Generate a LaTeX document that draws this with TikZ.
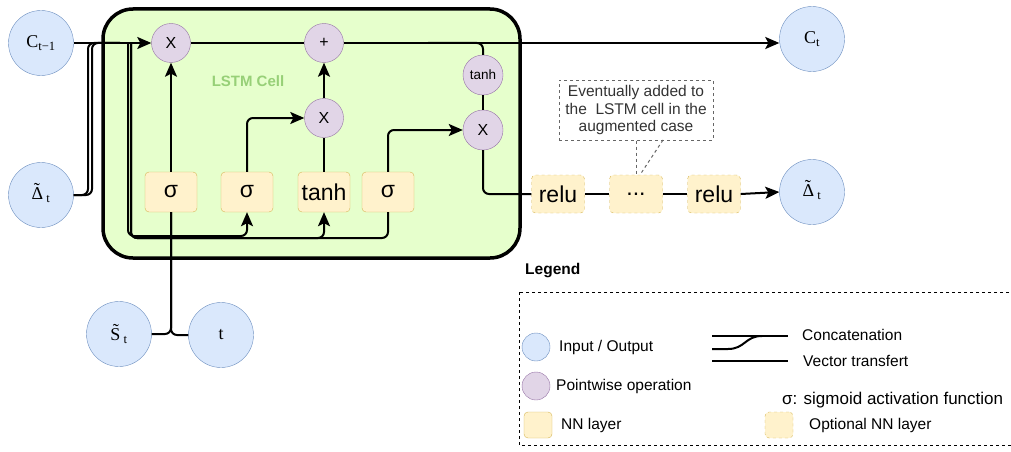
\documentclass[tikz,border=0pt]{standalone}
\usepackage{fontspec}
\setmainfont{Liberation Sans}
\newfontfamily\lblfont{Liberation Serif}
\usetikzlibrary{arrows.meta}

\definecolor{iofill}{HTML}{DAE8FC}
\definecolor{ioline}{HTML}{6C8EBF}
\definecolor{pwfill}{HTML}{E1D5E7}
\definecolor{pwline}{HTML}{9673A6}
\definecolor{nnfill}{HTML}{FFF2CC}
\definecolor{nnline}{HTML}{D6B656}
\definecolor{cellfill}{HTML}{E6FFCC}
\definecolor{cellname}{HTML}{97D077}
\definecolor{notegray}{HTML}{666666}
\definecolor{notetext}{HTML}{333333}

\newcommand{\tildedelta}{\ooalign{Δ\cr\hidewidth\raisebox{0.22em}{\symbol{"02DC}}\hidewidth\kern0.08em\cr}}

\begin{document}
\begin{tikzpicture}[x=1pt,y=-1pt,
    wire/.style={line width=2pt,rounded corners=6pt},
    arr/.style={-{Stealth[length=14pt,width=12pt,inset=3pt]}},
    io/.style={circle,draw=ioline,fill=iofill,minimum size=65pt,inner sep=0pt,
      font=\lblfont\fontsize{18}{20}\selectfont},
    pw/.style={circle,draw=pwline,fill=pwfill,minimum size=39pt,inner sep=0pt,
      font=\fontsize{16}{18}\selectfont},
    nn/.style={rectangle,rounded corners=4pt,draw=nnline,fill=nnfill,minimum width=52pt,
      minimum height=40pt,inner sep=0pt,font=\fontsize{23}{25}\selectfont},
    opt/.style={nn,dashed,minimum width=53pt,minimum height=38pt},
    lgd/.style={anchor=west,inner sep=0pt,font=\fontsize{15.5}{18}\selectfont},
  ]
  \useasboundingbox (0,0) rectangle (1011,452);

  \draw[line width=3.5pt,fill=cellfill,rounded corners=30pt] (103,9) rectangle (520,258);
  \node[text=cellname,font=\bfseries\fontsize{15}{17}\selectfont] (celltitle) at (248,81) {LSTM Cell};

  \node[io] (cprev) at (41,43) {C\textsubscript{t−1}};
  \node[io] (dprev) at (41,195) {\tildedelta\,\textsubscript{t}};
  \node[io] (st) at (119,334) {\~{S}\,\textsubscript{t}};
  \node[io] (tt) at (221,335) {t};
  \node[io] (cnext) at (812,39) {C\textsubscript{t}};
  \node[io] (dnext) at (812,192) {\tildedelta\,\textsubscript{t}};

  \node[pw] (mulf) at (171,43) {X};
  \node[pw] (add) at (324,43) {+};
  \node[pw] (muli) at (324,118) {X};
  \node[pw,minimum size=40pt,font=\fontsize{13.5}{15}\selectfont] (tanhc) at (483,75) {tanh};
  \node[pw,minimum size=40pt] (mulo) at (483,130) {X};

  \node[nn] (sigf) at (171,192) {σ};
  \node[nn] (sigi) at (247,192) {σ};
  \node[nn] (tanhl) at (324,192) {tanh};
  \node[nn] (sigo) at (388,192) {σ};

  \node[opt] (relua) at (558,194) {relu};
  \node[opt] (dots) at (636,194) {...};
  \node[opt] (relub) at (714,194) {relu};

  \node[draw=notegray,dashed,line width=1pt,text=notetext,align=center,minimum width=154pt,
    minimum height=60pt,inner sep=0pt,font=\fontsize{15.5}{17.5}\selectfont] (note) at (636,110)
    {Eventually added to\\the~~LSTM cell in the\\augmented case};
  \coordinate (notetip) at (663,140);
  \draw[notegray,dashed,line width=1pt] (note.south) -- (dots.north);
  \draw[notegray,dashed,line width=1pt] (notetip) -- ([xshift=4pt]dots.north);

  \coordinate (catd) at (120,43);
  \coordinate (catx) at (128,43);
  \coordinate (caty) at (131,43);
  \coordinate (tapo) at (428,43);

  \draw[wire,arr] (cprev.east) -- (mulf.west);
  \draw[wire] (dprev.east) -- (88,195) -- (88,43) -- (catd);
  \draw[wire] (dprev.east) -- (92,195) -- (92,43) -- (catd);
  \draw[wire,arr] (catx) -- (128,236) -- (247,236) -- (sigi.south);
  \draw[wire,arr] (caty) -- (131,238) -- (324,238) -- (tanhl.south);
  \draw[wire] (caty) -- (131,238) -- (388,238) -- (sigo.south);
  \draw[wire] (st.east) -| (sigf.south);
  \draw[wire] (tt.west) -| (sigf.south);

  \draw[wire,arr] (sigf.north) -- (mulf.south);
  \draw[wire] (mulf.east) -- (add.west);
  \draw[wire,arr] (sigi.north) |- (muli.west);
  \draw[wire] (tanhl.north) -- (muli.south);
  \draw[wire,arr] (muli.north) -- (add.south);
  \draw[wire,arr] (add.east) -- (add.east -| cnext.west);
  \draw[wire] (tapo) -| (tanhc.north);
  \draw[wire] (tanhc.south) -- (mulo.north);
  \draw[wire,arr] (sigo.north) |- (mulo.west);
  \draw[wire] (mulo.south) |- (relua.west);
  \draw[wire] (relua.east) -- (dots.west);
  \draw[wire] (dots.east) -- (relub.west);
  \draw[wire,arr] (relub.east) -- (dnext.west);

  % legend
  \node[anchor=west,inner sep=0pt,font=\bfseries\fontsize{15.5}{18}\selectfont] (lgdtitle) at (525,271) {Legend};
  \draw[line width=1pt,dash pattern=on 3pt off 3pt] (519,292) rectangle (1016,445);

  \node[io,minimum size=28pt] (lgdio) at (536,347) {};
  \node[lgd] (lgdiotxt) at (559,347) {Input / Output};
  \node[pw,minimum size=28pt] (lgdpw) at (536,386) {};
  \node[lgd] (lgdpwtxt) at (556,386) {Pointwise operation};
  \node[nn,minimum width=28pt,minimum height=26pt] (lgdnn) at (538,425) {};
  \node[lgd] (lgdnntxt) at (561,425) {NN layer};

  \draw[line width=2pt] (712,336) -- (788,336);
  \draw[line width=2pt] (712,349) -- (728,349) .. controls (745,349) and (745,336) .. (762,336);
  \draw[line width=2pt] (712,361) -- (788,361);
  \node[lgd] (lgdcat) at (802,335) {Concatenation};
  \node[lgd] (lgdvec) at (803,361) {Vector transfert};
  \node[lgd,font=\fontsize{17}{19}\selectfont] (lgdsig) at (782,400) {σ: sigmoid activation function};
  \node[opt,minimum width=28pt,minimum height=26pt] (lgdopt) at (779,425) {};
  \node[lgd] (lgdopttxt) at (809,425) {Optional NN layer};
\end{tikzpicture}
\end{document}
